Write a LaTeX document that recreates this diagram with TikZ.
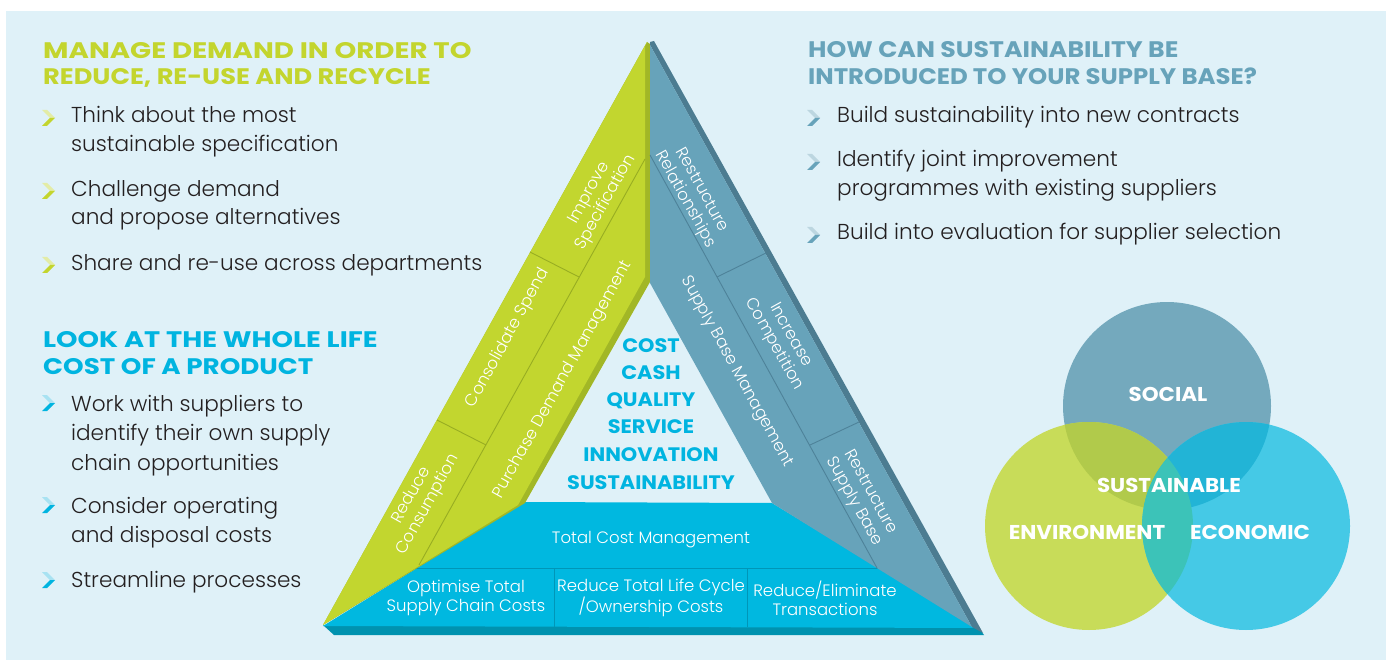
\documentclass[tikz,border=0pt]{standalone}
\usepackage{fontspec}
\setmainfont{Poppins}
\newfontfamily\poplight{Poppins Light}
\definecolor{bg}{HTML}{DFF1F8}
\definecolor{limeH}{HTML}{C3D52E}
\definecolor{cyanH}{HTML}{00B4E0}
\definecolor{steelH}{HTML}{67A3BA}
\definecolor{bodytext}{HTML}{231F20}
\definecolor{greenface}{HTML}{C2D62F}
\definecolor{greendark}{HTML}{A2B726}
\definecolor{greenline}{HTML}{98AD22}
\definecolor{steelface}{HTML}{67A3BA}
\definecolor{steeldark}{HTML}{4C7C91}
\definecolor{steelline}{HTML}{4E8299}
\definecolor{cyanface}{HTML}{00B8E0}
\definecolor{cyandark}{HTML}{0092AF}
\definecolor{cyanline}{HTML}{0096B8}
\definecolor{socialc}{HTML}{74A9BD}
\definecolor{envc}{HTML}{C8DC59}
\definecolor{econc}{HTML}{45C9E6}
\definecolor{soenv}{HTML}{B1CA4B}
\definecolor{soecon}{HTML}{22B4D6}
\definecolor{envecon}{HTML}{3CC3B8}
\definecolor{limeL}{HTML}{E3ECA6}
\definecolor{cyanL}{HTML}{A8E2F2}
\definecolor{steelL}{HTML}{BCD6E0}
\begin{document}
\begin{tikzpicture}[x=1pt,y=-1pt,
  heading/.style={inner sep=0pt,anchor=base west,font=\fontsize{22.5}{26}\selectfont\bfseries\addfontfeature{FakeStretch=#1}},
  body/.style={inner sep=0pt,anchor=base west,text=bodytext,font=\poplight\fontsize{21.6}{25}\selectfont},
  tlabel/.style={inner sep=0pt,text=white,align=center,font=\poplight\fontsize{16.5}{19}\selectfont},
  center/.style={inner sep=0pt,anchor=base,text=cyanH,font=\fontsize{19.5}{22}\selectfont\bfseries\addfontfeature{FakeStretch=1.07}},
  ctext/.style={inner sep=0pt,anchor=base,text=white,font=\fontsize{20}{22}\selectfont\bfseries\addfontfeature{FakeStretch=1.07}},
  pics/chev/.style 2 args={code={
    \fill[#1] (-6,-8) -- (-1,-8) -- (7,0) -- (2,0) -- cycle;
    \fill[#2] (2,0) -- (7,0) -- (-1,8) -- (-6,8) -- cycle;}}
]
\fill[white] (0,0) rectangle (1386,660);
\fill[bg] (6,11) rectangle (1386,660);
\useasboundingbox (0,0) rectangle (1386,660);

% ---------- triangle: base band ----------
\fill[cyandark] (323,625) -- (978,627) -- (984,635) -- (334,635) -- cycle;
\fill[cyanface] (323,626) -- (524,502) -- (772,503) -- (978,628) -- cycle;
\draw[cyanline,line width=1pt] (410,568) -- (885,568);
\draw[cyanline,line width=1pt] (554,568) -- (554,627);
\draw[cyanline,line width=1pt] (747,568) -- (747,627);

% ---------- green band ----------
\fill[greendark] (647,42) -- (650,44) -- (650,282) -- (525,503) -- (323,625) -- cycle;
\fill[greenface] (647,42) -- (645,46) -- (645,277) -- (518,505) -- (323,625) -- cycle;
\draw[greenline,line width=0.9pt] (645,159) -- (419,565);
\draw[greenline,line width=0.9pt] (530,252) -- (579,277);
\draw[greenline,line width=0.9pt] (437,420) -- (486,445);

% ---------- steel band ----------
\fill[steeldark] (650,42) -- (654,41) -- (983,633) -- (972,627) -- (650,45) -- cycle;
\fill[steelface] (650,45) -- (650,283) -- (772,503) -- (972,627) -- cycle;
\draw[steelline,line width=0.9pt] (650,155) -- (877,568);
\draw[steelline,line width=0.9pt] (766,253) -- (717,277);
\draw[steelline,line width=0.9pt] (859,422) -- (810,445);

% ---------- triangle labels ----------
\node[tlabel,rotate=61] (improve) at (598,198) {Improve\\Specification};
\node[tlabel,rotate=61] (consol) at (508,338) {Consolidate Spend};
\node[tlabel,rotate=61] (reduce) at (420,500) {Reduce\\Consumption};
\node[tlabel,rotate=61] (purchase) at (563,380) {Purchase Demand Management};
\node[tlabel,rotate=-61] (restrel) at (693,195) {Restructure\\Relationships};
\node[tlabel,rotate=-61] (incr) at (782,340) {Increase\\Competition};
\node[tlabel,rotate=-61] (restsup) at (862,497) {Restructure\\Supply Base};
\node[tlabel,rotate=-61] (sbm) at (737,372) {Supply Base Management};
\node[tlabel] (tcm) at (651,540) {Total Cost Management};
\node[tlabel] (opt) at (466,598) {Optimise Total\\Supply Chain Costs};
\node[tlabel] (rtl) at (651,598) {Reduce Total Life Cycle\\/Ownership Costs};
\node[tlabel] (rel) at (825,598) {Reduce/Eliminate\\Transactions};

% ---------- centre words ----------
\node[center] (c1) at (651,352) {COST};
\node[center] (c2) at (651,379) {CASH};
\node[center] (c3) at (651,406) {QUALITY};
\node[center] (c4) at (651,433) {SERVICE};
\node[center] (c5) at (651,461) {INNOVATION};
\node[center] (c6) at (651,489) {SUSTAINABILITY};

% ---------- left top ----------
\node[heading=1.23,text=limeH] (h1a) at (43,59) {MANAGE DEMAND IN ORDER TO};
\node[heading=1.14,text=limeH] (h1b) at (43,85) {REDUCE, RE-USE AND RECYCLE};
\pic at (48,118) {chev={limeL}{limeH}};
\pic at (48,191) {chev={limeL}{limeH}};
\pic at (48,265) {chev={limeL}{limeH}};
\node[body] (a1) at (71,123) {Think about the most};
\node[body] (a2) at (71,152) {sustainable specification};
\node[body] (a3) at (71,197) {Challenge demand};
\node[body] (a4) at (71,225) {and propose alternatives};
\node[body] (a5) at (71,270) {Share and re-use across departments};

% ---------- left bottom ----------
\node[heading=1.215,text=cyanH] (h2a) at (43,347) {LOOK AT THE WHOLE LIFE};
\node[heading=1.165,text=cyanH] (h2b) at (43,374) {COST OF A PRODUCT};
\pic at (48,403) {chev={cyanL}{cyanH}};
\pic at (48,505) {chev={cyanL}{cyanH}};
\pic at (48,580) {chev={cyanL}{cyanH}};
\node[body] (b1) at (71,411) {Work with suppliers to};
\node[body] (b2) at (71,440) {identify their own supply};
\node[body] (b3) at (71,470) {chain opportunities};
\node[body] (b4) at (71,513) {Consider operating};
\node[body] (b5) at (71,542) {and disposal costs};
\node[body] (b6) at (71,587) {Streamline processes};

% ---------- right top ----------
\node[heading=1.12,text=steelH] (h3a) at (808,58) {HOW CAN SUSTAINABILITY BE};
\node[heading=1.085,text=steelH] (h3b) at (808,85) {INTRODUCED TO YOUR SUPPLY BASE?};
\pic at (813,118) {chev={steelL}{steelH}};
\pic at (813,162) {chev={steelL}{steelH}};
\pic at (813,235) {chev={steelL}{steelH}};
\node[body] (r1) at (837,123) {Build sustainability into new contracts};
\node[body] (r2) at (837,167) {Identify joint improvement};
\node[body] (r3) at (837,196) {programmes with existing suppliers};
\node[body] (r4) at (837,240) {Build into evaluation for supplier selection};

% ---------- venn ----------
\fill[socialc] (1167,406) circle (104);
\fill[envc] (1089,526) circle (104);
\fill[econc] (1246,526) circle (104);
\begin{scope}
  \clip (1167,406) circle (104);
  \fill[soenv] (1089,526) circle (104);
  \fill[soecon] (1246,526) circle (104);
\end{scope}
\begin{scope}
  \clip (1089,526) circle (104);
  \fill[envecon] (1246,526) circle (104);
\end{scope}
\node[ctext] (social) at (1168,401) {SOCIAL};
\node[ctext] (sust) at (1169,492) {SUSTAINABLE};
\node[ctext] (env) at (1087,539) {ENVIRONMENT};
\node[ctext] (econ) at (1250,539) {ECONOMIC};
\end{tikzpicture}
\end{document}
